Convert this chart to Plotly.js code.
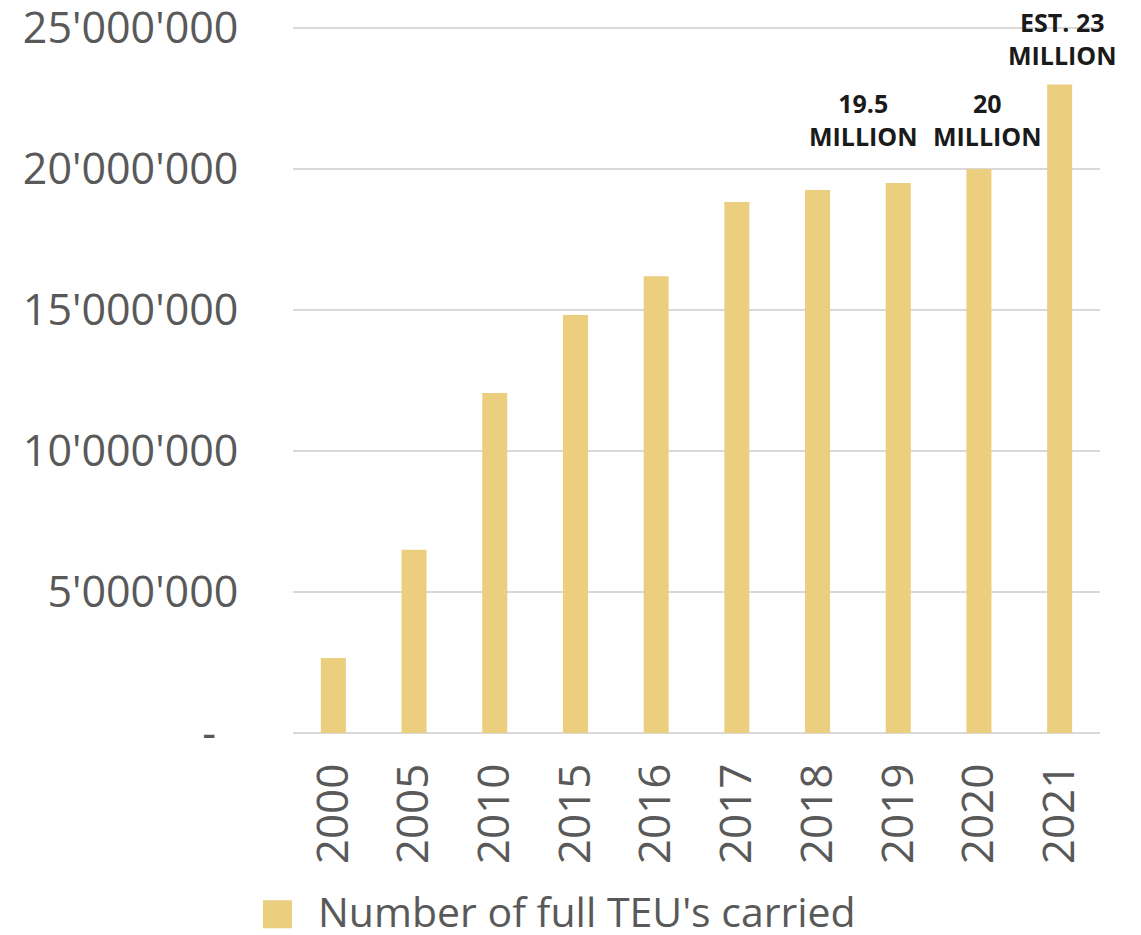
<!DOCTYPE html>
<html>
<head>
<meta charset="utf-8">
<script src="https://cdn.plot.ly/plotly-3.0.1.min.js"></script>
<style>html,body{margin:0;padding:0;background:#fff;}#chart{width:1141px;height:935px;}</style>
</head>
<body>
<div id="chart"></div>
<script>
const years = ['2000','2005','2010','2015','2016','2017','2018','2019','2020','2021'];
const teu = [2660000, 6500000, 12060000, 14820000, 16200000, 18830000, 19260000, 19500000, 20000000, 23000000];
const yTickVals = [0, 5000000, 10000000, 15000000, 20000000, 25000000];
const yTickText = ['-\u00a0\u00a0', "5'000'000", "10'000'000", "15'000'000", "20'000'000", "25'000'000"];
const seriesName = "Number of full TEU's carried";
const labelYears = ['2019', '2020', '2021'];
const labelTexts = ['19.5<br>MILLION', '20<br>MILLION', 'EST. 23<br>MILLION'];
const labelXShift = [-35, 9, 3];
const labelYShift = [28, 14, 10];

const gray = '#595959';
const barColor = '#EBCF7F';
const font = 'Open Sans, sans-serif';

const annotations = labelYears.map((yr, i) => ({
  x: years.indexOf(yr), y: teu[years.indexOf(yr)], xref: 'x', yref: 'y',
  text: labelTexts[i], showarrow: false, yanchor: 'bottom', xanchor: 'center',
  xshift: labelXShift[i], yshift: labelYShift[i],
  font: {family: font, size: 25, color: '#1a1a1a', weight: 'bold'},
  align: 'center'
}));
annotations.push({
  x: 0.0285, y: -0.2525, xref: 'paper', yref: 'paper', xanchor: 'left', yanchor: 'middle',
  text: seriesName, showarrow: false, font: {family: font, size: 41, color: gray}
});

Plotly.newPlot('chart', [{
  type: 'bar', x: years, y: teu, name: seriesName,
  marker: {color: barColor}
}], {
  width: 1141, height: 935,
  margin: {l: 293, r: 41, t: 27, b: 202},
  paper_bgcolor: '#fff', plot_bgcolor: '#fff',
  showlegend: false,
  bargap: 0.69,
  xaxis: {
    type: 'category', range: [-0.5, 9.5], autorange: false,
    tickangle: -90, showgrid: false, showline: false, zeroline: false,
    ticks: 'outside', ticklen: 12, tickcolor: 'rgba(0,0,0,0)',
    tickfont: {family: font, size: 44, color: gray}
  },
  yaxis: {
    range: [0, 25036000], autorange: false, tickvals: yTickVals, ticktext: yTickText,
    ticklabeloverflow: 'allow',
    showgrid: true, gridcolor: '#D9D9D9', gridwidth: 1.5,
    zeroline: true, zerolinecolor: '#D9D9D9', zerolinewidth: 1.5, showline: false,
    ticks: 'outside', ticklen: 45, tickcolor: 'rgba(0,0,0,0)',
    tickfont: {family: font, size: 43, color: gray}
  },
  shapes: [{
    type: 'rect', xref: 'paper', yref: 'paper',
    x0: -0.0372, x1: -0.0012, y0: -0.2766, y1: -0.2369,
    fillcolor: barColor, line: {width: 0}
  }],
  annotations: annotations
}, {displayModeBar: false});
</script>
</body>
</html>
